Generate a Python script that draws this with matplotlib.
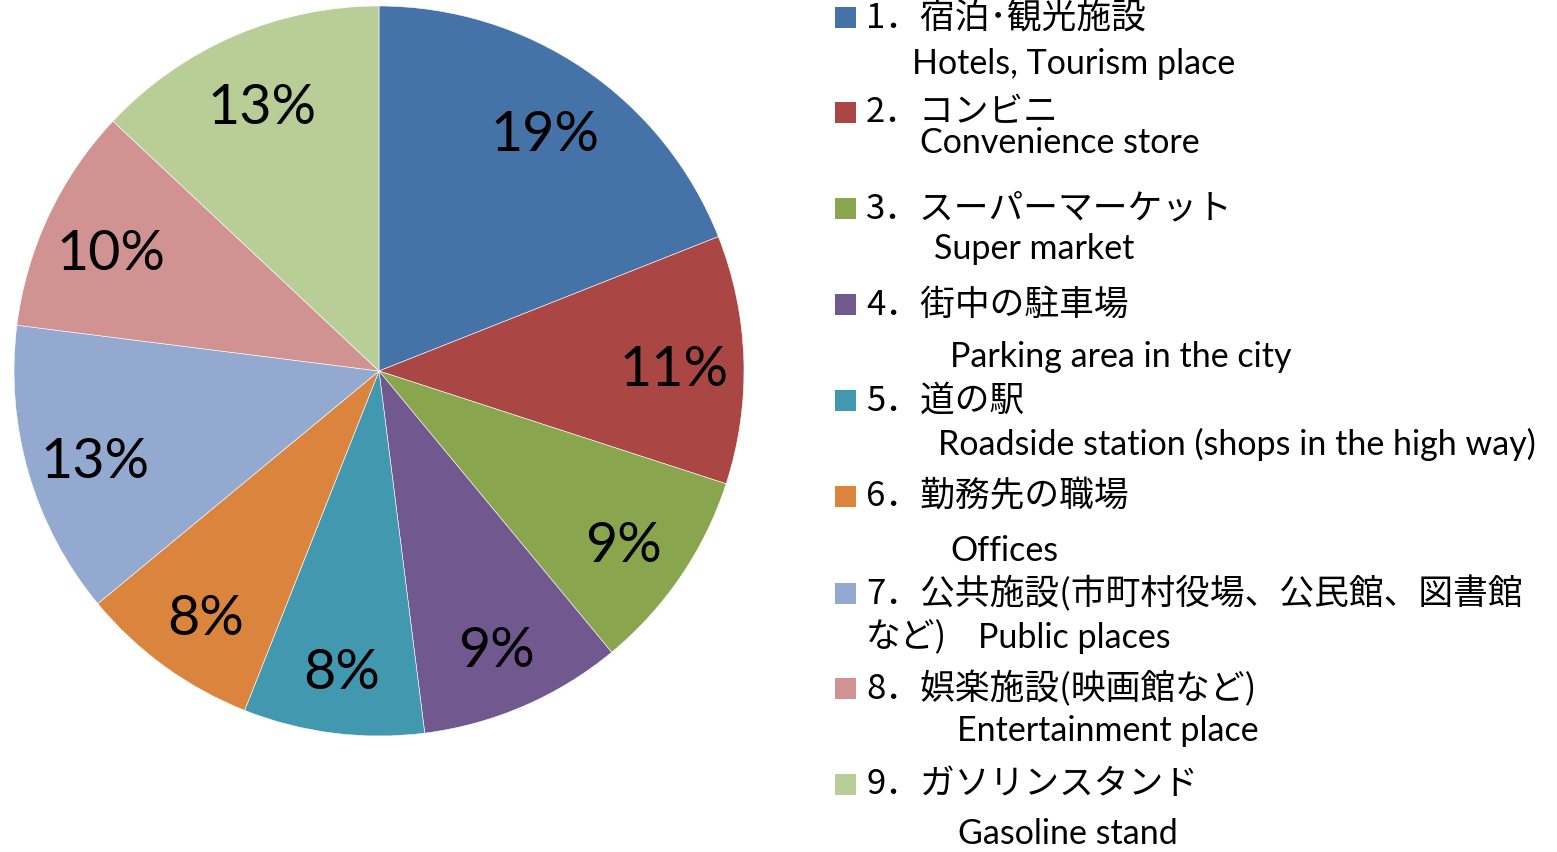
import matplotlib
matplotlib.use('Agg')
from matplotlib import pyplot as plt
from matplotlib.patches import Rectangle

W, H = 1557, 852

shares = [19, 11, 9, 9, 8, 8, 13, 10, 13]
colors = ['#4572A7', '#AA4643', '#89A54E', '#71588F', '#4198AF',
          '#DB843D', '#93A9CF', '#D19392', '#B9CD96']
jp_labels = ['1．宿泊･観光施設', '2．コンビニ', '3．スーパーマーケット', '4．街中の駐車場',
             '5．道の駅', '6．勤務先の職場', '7．公共施設(市町村役場、公民館、図書館',
             '8．娯楽施設(映画館など)', '9．ガソリンスタンド']
en_labels = ['Hotels, Tourism place', 'Convenience store', 'Super market',
             'Parking area in the city', 'Roadside station (shops in the high way)',
             'Offices', 'Public places', 'Entertainment place', 'Gasoline stand']

# legend layout in pixels (y of jp line, y of en line, x of en line)
jp_y = [18, 113, 209, 305, 401, 497, 594, 689, 785]
en_y = [64, 143, 249, 357, 444, 551, 638, 731, 834]
en_x = [912, 920, 934, 950, 938, 950, 978, 957, 958]

fig = plt.figure(figsize=(W / 100, H / 100), dpi=100)

cx, cy, r = 379, 371, 365
ax = fig.add_axes([(cx - r) / W, (H - cy - r) / H, 2 * r / W, 2 * r / H])
wedges, texts, autotexts = ax.pie(shares, colors=colors, startangle=90, counterclock=False,
                                  autopct='%d%%', pctdistance=0.81, radius=1,
                                  wedgeprops=dict(edgecolor='white', linewidth=0.4))
for t in autotexts:
    t.set_fontfamily(['Lato', 'DejaVu Sans'])
    t.set_fontsize(40)
    x, y = t.get_position()
    t.set_position((x, y - 0.025))
ax.set_xlim(-1, 1)
ax.set_ylim(-1, 1)
ax.set_axis_off()

jp_font = ['Noto Sans CJK JP', 'DejaVu Sans']
en_font = ['Lato', 'Noto Sans CJK JP']

for i in range(len(shares)):
    fig.patches.append(Rectangle((835 / W, 1 - (jp_y[i] + 10) / H), 21 / W, 21 / H,
                                 transform=fig.transFigure, facecolor=colors[i],
                                 edgecolor='none'))
    fig.text(866 / W, 1 - jp_y[i] / H, jp_labels[i], fontsize=25, family=jp_font,
             va='center', ha='left')
    fig.text(en_x[i] / W, 1 - en_y[i] / H, en_labels[i], fontsize=24.5, family=en_font,
             va='center', ha='left')

fig.text(866 / W, 1 - 638 / H, 'など)', fontsize=25, family=jp_font, va='center', ha='left')

fig.savefig('out.png', dpi=100)
